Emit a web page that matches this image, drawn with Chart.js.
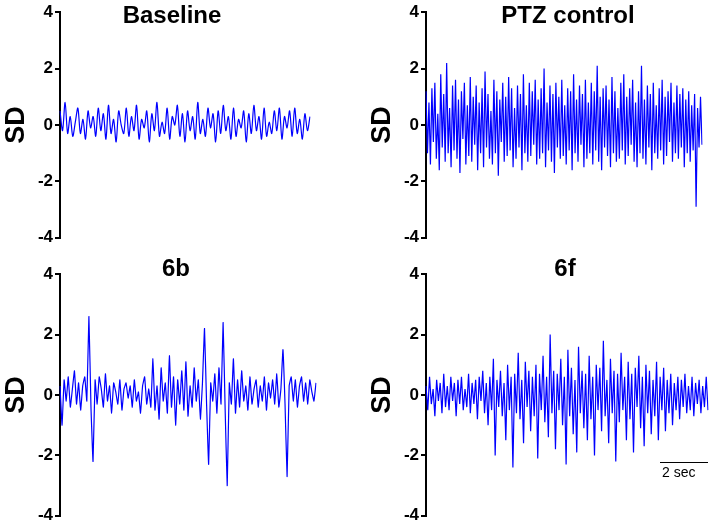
<!DOCTYPE html>
<html>
<head>
<meta charset="utf-8">
<script src="https://cdn.jsdelivr.net/npm/chart.js@4/dist/chart.umd.min.js"></script>
<style>
  body { margin: 0; background: #fff; width: 710px; height: 528px; position: relative; overflow: hidden; font-family: "Liberation Sans", Arial, sans-serif; }
  .panel { position: absolute; }
  .title { position: absolute; font-weight: bold; font-size: 24px; color: #000; transform: translateX(-50%); white-space: nowrap; }
  #bar { position: absolute; left: 660px; top: 462px; width: 48px; border-top: 1.5px solid #000; }
  #barText { position: absolute; left: 662px; top: 464px; font-size: 14px; }
</style>
</head>
<body>
<div class="panel" style="left:0;top:0;width:312px;height:250px"><canvas id="c1"></canvas></div>
<div class="panel" style="left:366px;top:0;width:338px;height:250px"><canvas id="c2"></canvas></div>
<div class="panel" style="left:0;top:262px;width:318px;height:266px"><canvas id="c3"></canvas></div>
<div class="panel" style="left:366px;top:262px;width:344px;height:266px"><canvas id="c4"></canvas></div>
<div class="title" style="left:172px;top:1px">Baseline</div>
<div class="title" style="left:568px;top:1px">PTZ control</div>
<div class="title" style="left:176px;top:254px">6b</div>
<div class="title" style="left:565px;top:254px">6f</div>
<div id="bar"></div><div id="barText">2 sec</div>
<script>
const yTicks = [-4, -2, 0, 2, 4];

const baseline = [0.5,-0.2,0.8,-0.3,0.3,-0.4,0.1,0.6,-0.3,0.2,-0.5,0.5,-0.1,0.3,-0.4,0.6,-0.2,0.4,-0.5,0.7,-0.3,0.2,-0.6,0.5,0.0,-0.3,0.6,-0.4,0.3,-0.2,0.7,-0.5,0.2,-0.1,0.5,-0.6,0.4,-0.2,0.8,-0.4,0.1,-0.3,0.6,-0.5,0.3,0.0,0.7,-0.4,0.4,-0.6,0.5,-0.2,0.3,-0.5,0.8,-0.3,0.2,-0.4,0.6,-0.1,0.4,-0.6,0.5,-0.3,0.7,-0.2,0.3,-0.5,0.6,-0.4,0.2,-0.1,0.5,-0.6,0.4,-0.3,0.7,-0.2,0.3,-0.5,0.6,-0.4,0.1,-0.3,0.5,-0.2,0.6,-0.5,0.3,-0.1,0.5,-0.4,0.6,-0.3,0.2,-0.5,0.4,-0.2,0.3];

const ptzControl = [1.2,-1.0,0.8,-1.4,1.3,-0.6,1.5,-1.2,0.4,-1.6,1.8,-0.8,1.1,-1.3,2.2,-1.0,0.6,-1.5,1.4,-0.9,1.6,-1.2,0.9,-1.7,1.2,-0.5,1.5,-1.4,0.7,-1.1,1.7,-1.3,1.0,-0.7,1.4,-1.6,0.8,-1.0,1.3,-1.5,1.9,-0.8,1.1,-1.2,0.5,-1.4,1.6,-1.0,1.2,-1.8,0.9,-0.6,1.5,-1.3,1.0,-1.1,1.7,-0.9,1.3,-1.5,0.6,-1.2,1.4,-0.8,1.1,-1.6,1.8,-1.0,0.7,-1.3,1.5,-1.1,1.2,-0.7,1.6,-1.4,0.9,-1.2,1.3,-1.0,2.0,-1.5,0.8,-0.9,1.4,-1.3,1.1,-1.7,1.5,-0.8,1.0,-1.2,1.6,-1.1,0.7,-1.4,1.3,-0.9,1.2,-1.6,1.8,-1.0,0.9,-1.3,1.4,-0.7,1.1,-1.5,1.6,-1.2,0.8,-1.0,1.5,-1.4,1.2,-0.9,2.1,-1.3,1.0,-1.6,1.3,-0.8,1.4,-1.1,0.9,-1.5,1.7,-1.0,1.2,-1.3,0.6,-1.2,1.5,-0.9,1.8,-1.4,1.0,-1.1,1.3,-0.7,1.6,-1.3,0.8,-1.5,1.2,-1.0,2.1,-1.2,0.9,-1.4,1.4,-0.8,1.1,-1.6,1.5,-1.0,0.7,-1.2,1.3,-0.9,1.6,-1.4,1.0,-1.1,1.2,-0.6,1.5,-1.3,0.8,-1.0,1.4,-1.2,1.1,-0.8,1.3,-1.5,0.9,-1.0,1.2,-1.3,0.7,-0.9,1.1,-2.9,0.6,-0.8,1.0,-0.7];

const cmpd6b = [0.3,-1.0,0.5,-0.2,0.6,-0.4,0.2,0.8,-0.3,0.4,-0.5,0.3,0.6,-0.2,2.6,-0.4,-2.2,0.5,-0.3,0.6,0.2,-0.4,0.7,-0.2,0.3,-0.6,0.4,0.1,-0.3,0.5,-0.5,0.2,0.4,-0.1,0.3,-0.4,0.5,-0.2,0.1,-0.6,0.3,0.6,-0.3,0.2,-0.4,1.2,-0.5,0.3,-0.8,0.9,-0.2,0.4,-0.6,1.3,-0.4,0.6,-1.0,0.5,-0.3,0.8,-0.5,1.1,-0.7,0.3,-0.4,0.9,-0.2,0.5,-0.8,0.4,2.2,-0.3,-2.3,0.4,-0.2,0.7,-0.6,0.9,-0.3,2.4,-0.5,-3.0,0.4,-0.3,1.2,-0.6,0.5,-0.4,0.8,-0.2,0.3,-0.5,0.6,-0.3,0.2,0.5,-0.4,0.3,-0.2,0.6,-0.5,0.4,-0.1,0.5,-0.3,0.7,-0.4,0.2,1.5,-0.3,-2.7,0.3,0.6,-0.2,0.5,-0.4,0.3,0.6,-0.2,0.4,-0.3,0.5,0.1,-0.2,0.4];

const cmpd6f = [0.3,-0.5,0.6,-0.3,0.2,-0.7,0.5,-0.2,0.4,-0.6,0.7,-0.4,0.3,-0.5,0.6,-0.2,0.4,-0.7,0.5,-0.3,0.6,-0.5,0.2,-0.4,0.7,-0.6,0.4,-0.3,0.5,-0.8,0.6,-0.2,0.8,-0.6,0.4,-1.0,0.6,-0.5,1.2,-2.0,0.5,-0.4,0.8,-0.7,0.4,-1.5,1.0,-0.5,0.6,-2.4,0.7,-0.6,1.4,-0.8,0.5,-1.6,1.1,-0.4,0.8,-1.2,0.6,-0.7,1.0,-2.1,0.7,-0.5,1.3,-0.9,0.6,-1.4,2.0,-0.6,0.8,-1.8,0.7,-0.5,1.2,-1.0,0.6,-2.3,1.5,-0.7,0.9,-1.3,0.5,-1.9,1.6,-0.6,0.8,-1.1,0.7,-1.5,1.3,-0.8,0.6,-2.0,1.0,-0.5,0.9,-1.2,1.8,-0.7,0.5,-1.6,1.2,-0.6,0.8,-2.2,0.7,-0.9,1.4,-0.5,0.6,-1.5,1.1,-0.8,0.7,-1.9,0.9,-0.4,1.3,-1.1,0.6,-1.7,1.0,-0.6,0.8,-1.3,0.5,-0.7,1.1,-1.5,0.6,-0.5,0.9,-1.2,0.5,-0.6,0.7,-1.0,0.4,-0.5,0.6,-0.8,0.5,-0.4,0.7,-0.6,0.3,-0.5,0.6,-0.7,0.4,-0.3,0.5,-0.6,0.3,-0.4,0.6,-0.5];

function makeChart(id, values, tension) {
  new Chart(document.getElementById(id), {
    type: 'line',
    data: {
      labels: values.map((v, i) => i),
      datasets: [{
        data: values,
        borderColor: '#0000ff',
        borderWidth: 1.2,
        pointRadius: 0,
        tension: tension,
        fill: false
      }]
    },
    options: {
      responsive: true,
      maintainAspectRatio: false,
      animation: false,
      layout: { padding: { top: 12, bottom: 12, right: 2 } },
      plugins: { legend: { display: false }, tooltip: { enabled: false } },
      scales: {
        x: { display: false },
        y: {
          min: -4, max: 4,
          afterBuildTicks: s => { s.ticks = yTicks.map(v => ({ value: v })); },
          afterFit: s => { s.width = 60; },
          border: { display: true, color: '#000', width: 2 },
          grid: { drawOnChartArea: false, drawTicks: true, tickLength: 5, color: '#000', lineWidth: 2 },
          ticks: { color: '#000', font: { family: 'Liberation Sans', size: 17, weight: 'bold' }, padding: 2 },
          title: { display: true, text: 'SD', color: '#000', font: { family: 'Liberation Sans', size: 27, weight: 'bold' }, padding: 0 }
        }
      }
    }
  });
}

makeChart('c1', baseline, 0.3);
makeChart('c2', ptzControl, 0);
makeChart('c3', cmpd6b, 0.1);
makeChart('c4', cmpd6f, 0);
</script>
</body>
</html>
